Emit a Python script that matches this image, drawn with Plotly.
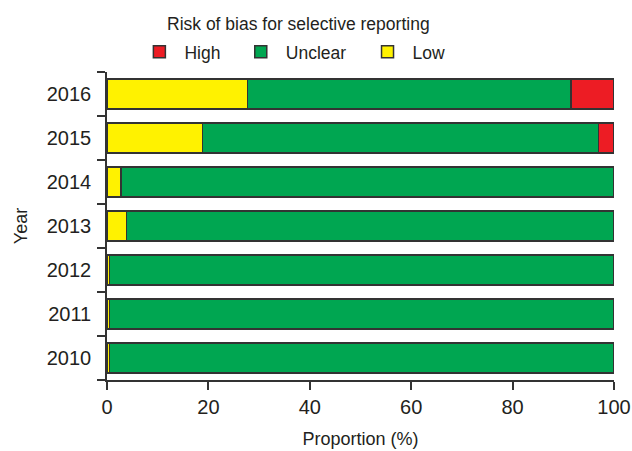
import plotly.graph_objects as go

years = ["2010", "2011", "2012", "2013", "2014", "2015", "2016"]
low = [0.5, 0.5, 0.5, 3.8, 2.8, 18.8, 27.7]
unclear = [99.5, 99.5, 99.5, 96.2, 97.2, 78.1, 63.8]
high = [0.0, 0.0, 0.0, 0.0, 0.0, 3.1, 8.5]
legend_title = "Risk of bias for selective reporting"

font_color = "#231F20"
line = dict(color="#333333", width=1.5)

fig = go.Figure()
fig.add_trace(go.Bar(y=years, x=low, name="Low", orientation="h", legend="legend3",
                     showlegend=True, marker=dict(color="#FFF200", line=line)))
fig.add_trace(go.Bar(y=years, x=unclear, name="Unclear", orientation="h", legend="legend2",
                     showlegend=True, marker=dict(color="#00A651", line=line)))
fig.add_trace(go.Bar(y=years, x=high, name="High", orientation="h", legend="legend",
                     showlegend=True, marker=dict(color="#ED1C24", line=line)))

def leg(xpos):
    return dict(orientation="h", x=xpos, xanchor="left", y=1.065, yanchor="middle",
                font=dict(size=17.5), itemwidth=40, bgcolor="rgba(0,0,0,0)")

fig.update_layout(
    width=632, height=451,
    showlegend=True,
    barmode="stack", bargap=0.31,
    plot_bgcolor="white", paper_bgcolor="white",
    font=dict(family="Liberation Sans, Arial, sans-serif", size=18, color=font_color),
    margin=dict(l=107, r=18, t=72, b=71, autoexpand=False),
    legend=leg(0.054),
    legend2=leg(0.254),
    legend3=leg(0.504),
    annotations=[dict(text=legend_title, xref="paper", yref="paper",
                      x=0.377, y=1.155, xanchor="center", yanchor="middle",
                      showarrow=False, font=dict(size=17.5))],
    xaxis=dict(
        range=[0, 100], tickvals=[0, 20, 40, 60, 80, 100],
        showgrid=False, zeroline=False, automargin=False,
        showline=True, linecolor="#333333", linewidth=1.5,
        ticks="outside", ticklen=8, tickwidth=1.5, tickcolor="#333333",
        tickfont=dict(size=20),
        title=dict(text="Proportion (%)", standoff=16, font=dict(size=18)),
    ),
    yaxis=dict(
        categoryorder="array", categoryarray=years,
        showgrid=False, zeroline=False, automargin=False,
        showline=True, linecolor="#333333", linewidth=1.5,
        ticks="outside", tickson="boundaries", ticklen=8, tickwidth=1.5, tickcolor="#333333",
        tickfont=dict(size=20), ticklabelstandoff=10,
        title=dict(text="Year", standoff=14, font=dict(size=18)),
    ),
)

fig.write_html("out.html", config={"displayModeBar": False},
               post_script="document.body.style.margin='0';")
